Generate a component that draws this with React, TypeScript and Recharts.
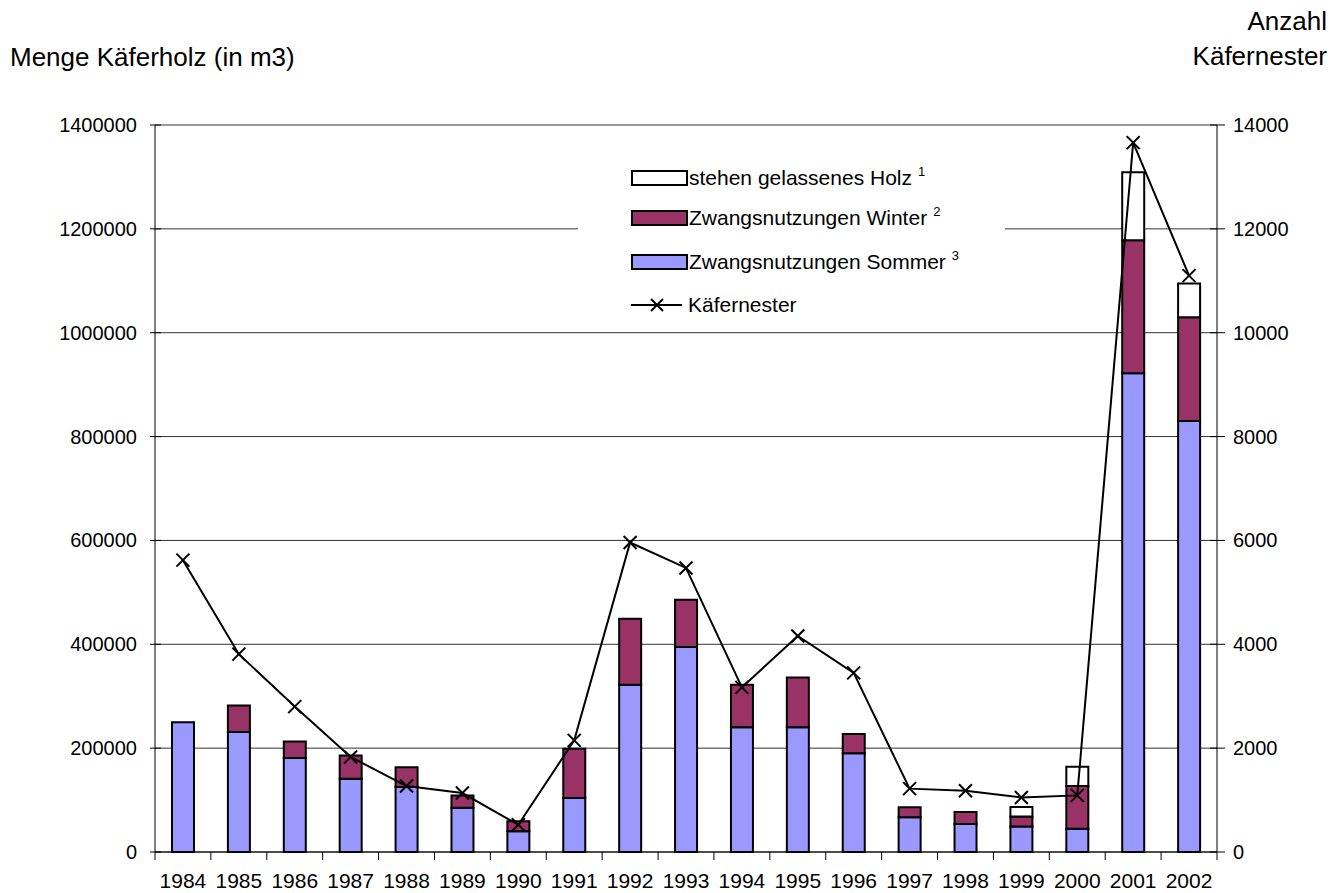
import React from 'react';
import { ComposedChart, Bar, Line, XAxis, YAxis, CartesianGrid, Legend } from 'recharts';

// Jahre (Kategorien)
const years = [
  '1984', '1985', '1986', '1987', '1988', '1989', '1990', '1991', '1992', '1993',
  '1994', '1995', '1996', '1997', '1998', '1999', '2000', '2001', '2002',
];

// Menge Käferholz in m3
const sommer = [
  250000, 231000, 181000, 141000, 125000, 85000, 40000, 104000, 322000, 395000,
  240000, 240000, 190000, 67000, 54000, 49000, 45000, 922000, 830000,
];
const winter = [
  0, 51000, 32000, 45000, 38000, 24000, 19000, 95000, 127000, 91000,
  82000, 96000, 37000, 19000, 23000, 19500, 82000, 256000, 200000,
];
const stehen = [
  0, 0, 0, 0, 0, 0, 0, 0, 0, 0,
  0, 0, 0, 0, 0, 18000, 37000, 131000, 65000,
];

// Anzahl Käfernester
const nester = [
  5620, 3810, 2800, 1830, 1270, 1135, 525, 2150, 5960, 5470,
  3170, 4160, 3450, 1220, 1180, 1050, 1090, 13660, 11100,
];

const leftTicks = [0, 200000, 400000, 600000, 800000, 1000000, 1200000, 1400000];
const rightTicks = [0, 2000, 4000, 6000, 8000, 10000, 12000, 14000];

const legendItems = [
  { key: 'stehen', name: 'stehen gelassenes Holz', sup: '1', fill: '#FFFFFF' },
  { key: 'winter', name: 'Zwangsnutzungen Winter', sup: '2', fill: '#993366' },
  { key: 'sommer', name: 'Zwangsnutzungen Sommer', sup: '3', fill: '#9999FF' },
  { key: 'nester', name: 'Käfernester', sup: '', fill: '' },
];

const data = years.map((year, i) => ({
  year,
  sommer: sommer[i],
  winter: winter[i],
  stehen: stehen[i],
  nester: nester[i],
}));

const W = 1332;
const H = 893;
const PLOT_L = 155;
const PLOT_R = 1217;
const BAND = (PLOT_R - PLOT_L) / years.length;
const FONT = '"Liberation Sans", Arial, Helvetica, sans-serif';

function CrossDot(props: any) {
  const { cx, cy, index } = props;
  if (cx == null || cy == null) return null;
  const r = 6.5;
  return (
    <g key={`dot-${index}`}>
      <line x1={cx - r} y1={cy - r} x2={cx + r} y2={cy + r} stroke="#000" strokeWidth={2} />
      <line x1={cx - r} y1={cy + r} x2={cx + r} y2={cy - r} stroke="#000" strokeWidth={2} />
    </g>
  );
}

function YearTick(props: any) {
  const { x, y, payload, index } = props;
  const half = BAND / 2;
  return (
    <g>
      <line x1={x + half} y1={y} x2={x + half} y2={y + 8} stroke="#000" strokeWidth={1} />
      {index === 0 && <line x1={x - half} y1={y} x2={x - half} y2={y + 8} stroke="#000" strokeWidth={1} />}
      <text x={x} y={y + 36} textAnchor="middle" fontSize={21} fontFamily={FONT} fill="#000">
        {payload.value}
      </text>
    </g>
  );
}

function LeftTick(props: any) {
  const { x, y, payload } = props;
  return (
    <g>
      <line x1={x - 5} y1={y} x2={x + 6} y2={y} stroke="#000" strokeWidth={1} />
      <text x={x - 18} y={y + 7} textAnchor="end" fontSize={20} fontFamily={FONT} fill="#000">
        {payload.value}
      </text>
    </g>
  );
}

function RightTick(props: any) {
  const { x, y, payload } = props;
  return (
    <g>
      <line x1={x - 7} y1={y} x2={x + 8} y2={y} stroke="#000" strokeWidth={1} />
      <text x={x + 16} y={y + 7} textAnchor="start" fontSize={20} fontFamily={FONT} fill="#000">
        {payload.value}
      </text>
    </g>
  );
}

function ChartLegend() {
  return (
    <div style={{ position: 'relative', width: '100%', height: '100%', fontFamily: FONT, fontSize: 21, color: '#000' }}>
      {legendItems.map((item, i) => (
        <div
          key={item.key}
          style={{ position: 'absolute', left: 53, top: [28, 68, 112, 155][i] - 14, height: 28, display: 'flex', alignItems: 'center', whiteSpace: 'nowrap' }}
        >
          {item.fill ? (
            <div style={{ width: 53, height: 12, border: '2px solid #000', background: item.fill }} />
          ) : (
            <svg width={52} height={20} style={{ display: 'block' }}>
              <line x1={0} y1={10} x2={51} y2={10} stroke="#000" strokeWidth={2} />
              <line x1={20} y1={4} x2={32} y2={16} stroke="#000" strokeWidth={2} />
              <line x1={20} y1={16} x2={32} y2={4} stroke="#000" strokeWidth={2} />
            </svg>
          )}
          <span style={{ marginLeft: item.fill ? 1 : 5 }}>
            {item.name}
            {item.sup && (
              <sup style={{ fontSize: 13, marginLeft: 6, verticalAlign: 0, position: 'relative', top: -9 }}>{item.sup}</sup>
            )}
          </span>
        </div>
      ))}
    </div>
  );
}

export default function App() {
  return (
    <div style={{ position: 'absolute', left: 0, top: 0, width: W, height: H, background: '#fff', fontFamily: FONT }}>
      <div style={{ position: 'absolute', left: 10, top: 40, fontSize: 26, lineHeight: '35px', color: '#000', whiteSpace: 'nowrap' }}>
        Menge Käferholz (in m3)
      </div>
      <div style={{ position: 'absolute', right: 5, top: 4, fontSize: 26, lineHeight: '35px', color: '#000', textAlign: 'right' }}>
        Anzahl
        <br />
        Käfernester
      </div>
      <ComposedChart width={W} height={H} data={data} margin={{ top: 125, right: 0, bottom: 0, left: 0 }} barCategoryGap={0}>
        <CartesianGrid yAxisId="left" vertical={false} stroke="#333" strokeWidth={1} />
        <XAxis
          dataKey="year"
          interval={0}
          height={41}
          tickLine={false}
          tickSize={0}
          tickMargin={0}
          tick={<YearTick />}
          axisLine={{ stroke: '#000', strokeWidth: 1 }}
        />
        <YAxis
          yAxisId="left"
          orientation="left"
          width={155}
          domain={[0, 1400000]}
          ticks={leftTicks}
          interval={0}
          tickLine={false}
          tickSize={0}
          tickMargin={0}
          tick={<LeftTick />}
          axisLine={{ stroke: '#000', strokeWidth: 1 }}
        />
        <YAxis
          yAxisId="right"
          orientation="right"
          width={115}
          domain={[0, 14000]}
          ticks={rightTicks}
          interval={0}
          tickLine={false}
          tickSize={0}
          tickMargin={0}
          tick={<RightTick />}
          axisLine={{ stroke: '#000', strokeWidth: 1 }}
        />
        <Legend
          layout="vertical"
          align="center"
          verticalAlign="middle"
          content={<ChartLegend />}
          wrapperStyle={{ left: 578, top: 150, width: 427, height: 175, background: '#fff' }}
        />
        <Bar yAxisId="left" dataKey="sommer" name="Zwangsnutzungen Sommer" stackId="holz" fill="#9999FF" stroke="#000" strokeWidth={2} barSize={22} isAnimationActive={false} />
        <Bar yAxisId="left" dataKey="winter" name="Zwangsnutzungen Winter" stackId="holz" fill="#993366" stroke="#000" strokeWidth={2} barSize={22} isAnimationActive={false} />
        <Bar yAxisId="left" dataKey="stehen" name="stehen gelassenes Holz" stackId="holz" fill="#FFFFFF" stroke="#000" strokeWidth={2} barSize={22} isAnimationActive={false} />
        <Line
          yAxisId="right"
          type="linear"
          dataKey="nester"
          name="Käfernester"
          stroke="#000"
          strokeWidth={2}
          dot={<CrossDot />}
          activeDot={false}
          isAnimationActive={false}
        />
      </ComposedChart>
    </div>
  );
}
